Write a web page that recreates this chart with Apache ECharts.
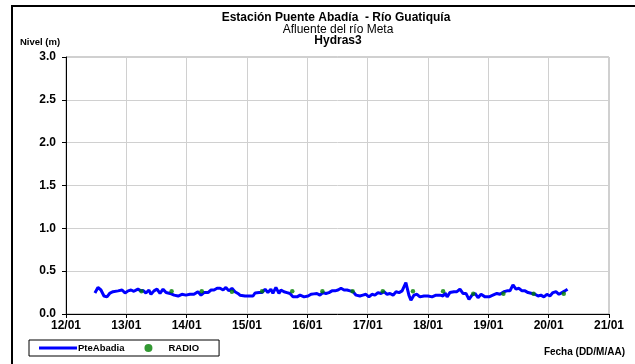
<!DOCTYPE html>
<html>
<head>
<meta charset="utf-8">
<script src="https://cdn.jsdelivr.net/npm/echarts@6/dist/echarts.min.js"></script>
<style>html,body{margin:0;padding:0;background:#fff}#c{width:635px;height:364px}</style>
</head>
<body>
<div id="c"></div>
<script>
// Day tick labels (x axis is hours since 12/01 00:00)
var dayLabels = ['12/01','13/01','14/01','15/01','16/01','17/01','18/01','19/01','20/01','21/01'];
var yTicks = [0, 0.5, 1.0, 1.5, 2.0, 2.5, 3.0];

// PteAbadia level series: hours since 12/01 00:00, level (m)
var levelHours = [11.5,12.7,13.9,15.1,16.3,17.5,18.7,20.7,22.3,23.5,24.7,25.9,27.0,28.6,29.8,30.6,31.8,33.0,33.8,35.0,36.2,37.4,38.6,39.8,41.4,43.0,44.6,46.1,47.7,49.3,50.9,52.5,53.7,54.9,56.5,57.7,58.9,60.1,61.3,62.5,63.6,64.8,66.0,67.2,68.4,69.2,71.2,73.2,74.4,75.2,76.8,78.0,79.2,80.3,81.5,82.3,83.5,84.7,85.5,86.7,87.9,89.1,90.3,91.9,93.1,94.7,96.3,97.5,98.6,99.8,101.0,102.2,103.4,104.6,105.8,107.0,108.2,109.4,110.6,111.8,113.0,114.2,115.4,116.9,118.1,119.3,120.5,121.7,122.9,124.1,125.3,126.5,127.7,128.9,130.1,131.3,132.5,133.7,134.4,135.2,136.0,136.4,137.2,138.4,139.6,140.8,142.4,144.0,145.6,147.2,148.8,150.0,150.8,151.6,152.7,154.3,155.5,156.7,157.9,159.1,160.3,161.5,162.7,163.9,165.1,166.7,168.3,169.8,171.4,172.6,174.2,175.4,176.6,177.8,179.0,180.2,181.4,182.6,183.8,185.4,186.6,187.8,188.9,190.1,191.3,192.5,193.7,194.9,196.1,197.3,198.5,199.5];
var levelValues = [0.245,0.31,0.28,0.21,0.20,0.245,0.26,0.27,0.28,0.245,0.27,0.28,0.265,0.29,0.27,0.275,0.245,0.28,0.23,0.27,0.29,0.24,0.29,0.25,0.24,0.22,0.21,0.23,0.22,0.23,0.23,0.26,0.22,0.25,0.25,0.28,0.28,0.30,0.30,0.28,0.31,0.27,0.30,0.26,0.24,0.22,0.21,0.21,0.21,0.245,0.25,0.25,0.29,0.25,0.29,0.24,0.31,0.24,0.28,0.26,0.25,0.24,0.20,0.20,0.22,0.20,0.21,0.23,0.235,0.24,0.22,0.25,0.24,0.25,0.27,0.27,0.28,0.30,0.28,0.28,0.27,0.26,0.22,0.21,0.22,0.23,0.20,0.23,0.22,0.25,0.24,0.26,0.23,0.24,0.22,0.26,0.25,0.27,0.26,0.365,0.27,0.22,0.16,0.22,0.23,0.20,0.21,0.21,0.20,0.22,0.22,0.21,0.245,0.20,0.25,0.26,0.26,0.29,0.24,0.24,0.17,0.22,0.24,0.19,0.23,0.20,0.20,0.22,0.24,0.23,0.26,0.27,0.27,0.34,0.29,0.30,0.27,0.27,0.25,0.24,0.23,0.21,0.22,0.20,0.23,0.21,0.25,0.26,0.23,0.25,0.27,0.29];

// RADIO readings: hours since 12/01 00:00, level (m)
var radioHours = [30,42,54,66,78,90,102,114,126,138,150,162,174,186,198];
var radioValues = [0.265,0.265,0.265,0.26,0.265,0.265,0.265,0.265,0.265,0.265,0.265,0.235,0.235,0.235,0.235];

function zip(a, b) { return a.map(function (v, i) { return [v, b[i]]; }); }

var chart = echarts.init(document.getElementById('c'), null, {renderer: 'canvas'});
var FF = '"Liberation Sans", Arial, sans-serif';
chart.setOption({
  animation: false,
  backgroundColor: '#ffffff',
  grid: {left: 66, right: 26, top: 57, bottom: 50, show: true, borderColor: '#a0a0a0', borderWidth: 1},
  xAxis: {
    type: 'value', min: 0, max: 216, interval: 24,
    axisLine: {show: true, lineStyle: {color: '#000', width: 1}},
    axisTick: {show: true, inside: false, length: 4, lineStyle: {color: '#000'}},
    splitLine: {show: true, lineStyle: {color: '#d0d0d0', width: 1}},
    axisLabel: {fontFamily: FF, fontWeight: 'bold', fontSize: 12, color: '#000', margin: 6,
      formatter: function (v) { return dayLabels[Math.round(v / 24)]; }}
  },
  yAxis: {
    type: 'value', min: 0, max: 3, interval: 0.5,
    axisLine: {show: true, lineStyle: {color: '#000', width: 1}},
    axisTick: {show: true, inside: false, length: 4, lineStyle: {color: '#000'}},
    splitLine: {show: true, lineStyle: {color: '#d0d0d0', width: 1}},
    axisLabel: {fontFamily: FF, fontWeight: 'bold', fontSize: 12, color: '#000', margin: 10,
      formatter: function (v) { return yTicks.indexOf(v) >= 0 ? v.toFixed(1) : ''; }}
  },
  legend: {
    left: 29, top: 340, orient: 'horizontal',
    padding: [3, 20, 3, 10], itemGap: 20, itemWidth: 38, itemHeight: 8,
    borderColor: '#000', borderWidth: 1, backgroundColor: '#fff',
    textStyle: {fontFamily: FF, fontSize: 9.5, fontWeight: 'bold', color: '#000', padding: [0, 0, 0, -4]},
    data: [
      {name: 'PteAbadia', icon: 'path://M0,0 L38,0 L38,3 L0,3 Z'},
      {name: 'RADIO', icon: 'path://M21,2 A2,2 0 1 1 21.01,2 Z'}
    ]
  },
  graphic: [
    {type: 'rect', shape: {x: 12, y: 6, width: 700, height: 400}, style: {fill: 'none', stroke: '#000', lineWidth: 2}, silent: true},
    {type: 'text', x: 336, y: 18, style: {text: 'Estación Puente Abadía  - Río Guatiquía', font: 'bold 12px ' + FF, fill: '#000', textAlign: 'center', textVerticalAlign: 'middle'}},
    {type: 'text', x: 338, y: 30, style: {text: 'Afluente del río Meta', font: '12px ' + FF, fill: '#000', textAlign: 'center', textVerticalAlign: 'middle'}},
    {type: 'text', x: 338, y: 41, style: {text: 'Hydras3', font: 'bold 12px ' + FF, fill: '#000', textAlign: 'center', textVerticalAlign: 'middle'}},
    {type: 'text', x: 20, y: 42, style: {text: 'Nivel (m)', font: 'bold 9.5px ' + FF, fill: '#000', textAlign: 'left', textVerticalAlign: 'middle'}},
    {type: 'text', x: 625, y: 352, style: {text: 'Fecha (DD/M/AA)', font: 'bold 10px ' + FF, fill: '#000', textAlign: 'right', textVerticalAlign: 'middle'}}
  ],
  series: [
    {name: 'PteAbadia', type: 'line', data: zip(levelHours, levelValues), showSymbol: false, symbol: 'none',
      lineStyle: {color: '#0000ff', width: 3}, itemStyle: {color: '#0000ff'}, z: 3},
    {name: 'RADIO', type: 'scatter', data: zip(radioHours, radioValues), symbol: 'circle', symbolSize: 4.5,
      itemStyle: {color: '#008000'}, z: 4}
  ]
});
</script>
</body>
</html>
